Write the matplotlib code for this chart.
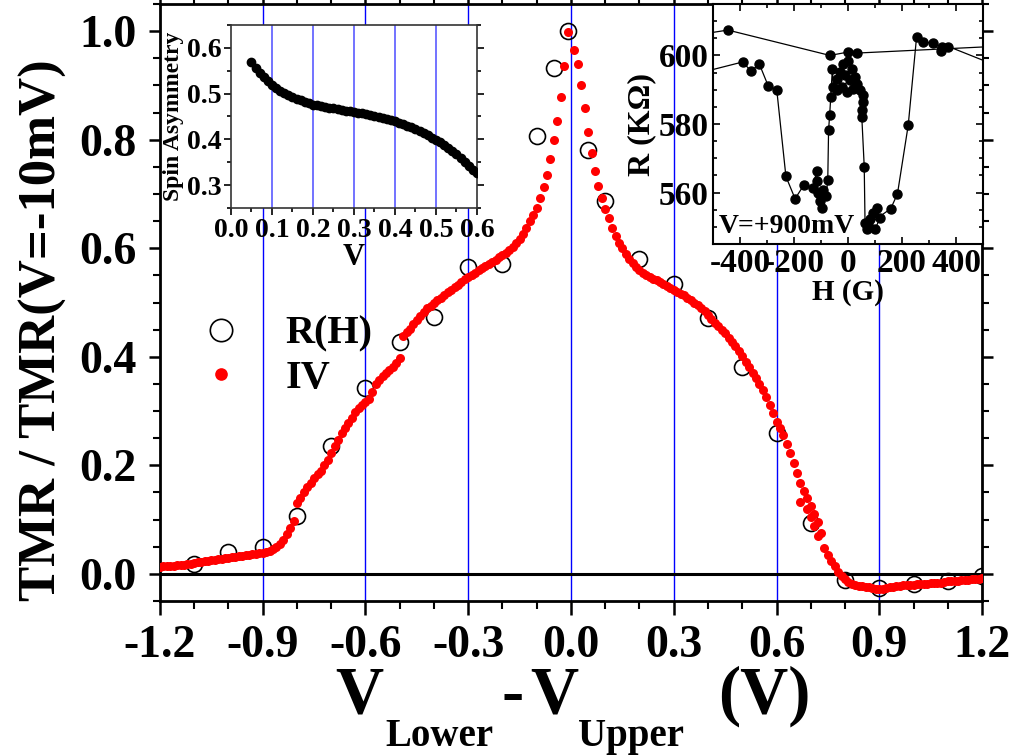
import numpy as np
import matplotlib
matplotlib.use("Agg")
import matplotlib.pyplot as plt
from matplotlib.ticker import MultipleLocator

plt.rcParams['font.family'] = ['Liberation Serif', 'DejaVu Serif']
plt.rcParams['font.weight'] = 'bold'
plt.rcParams['axes.unicode_minus'] = False

# ---- main panel: R(H) points ----
rh_v = [-1.1, -1.0, -0.9, -0.8, -0.7, -0.6, -0.5, -0.4, -0.3, -0.2, -0.1, -0.05, -0.01,
        0.05, 0.1, 0.2, 0.3, 0.4, 0.5, 0.6, 0.7, 0.8, 0.9, 1.0, 1.1, 1.2]
rh_tmr = [0.018, 0.040, 0.049, 0.107, 0.235, 0.343, 0.427, 0.473, 0.566, 0.571, 0.807, 0.933, 1.0,
          0.781, 0.687, 0.580, 0.534, 0.472, 0.381, 0.260, 0.094, -0.011, -0.026, -0.018, -0.014, -0.004]

# ---- main panel: IV points, bias from -1.20 V to +1.20 V in 0.01 V steps ----
iv_v = np.round(np.arange(-120, 121) * 0.01, 2)
iv_tmr = [
    # -1.20 .. -1.01
    0.013, 0.014, 0.014, 0.015, 0.015, 0.016, 0.017, 0.017, 0.018, 0.019,
    0.020, 0.021, 0.022, 0.023, 0.024, 0.025, 0.026, 0.027, 0.028, 0.029,
    # -1.00 .. -0.81
    0.030, 0.031, 0.032, 0.033, 0.033, 0.034, 0.035, 0.036, 0.037, 0.038,
    0.038, 0.040, 0.042, 0.045, 0.049, 0.055, 0.063, 0.073, 0.085, 0.098,
    # -0.80 .. -0.61
    0.130, 0.140, 0.150, 0.160, 0.168, 0.176, 0.184, 0.190, 0.200, 0.210,
    0.222, 0.235, 0.247, 0.259, 0.268, 0.278, 0.288, 0.298, 0.305, 0.311,
    # -0.60 .. -0.41
    0.316, 0.322, 0.335, 0.350, 0.358, 0.364, 0.370, 0.375, 0.381, 0.388,
    0.398, 0.438, 0.445, 0.452, 0.460, 0.468, 0.476, 0.483, 0.489, 0.494,
    # -0.40 .. -0.21
    0.499, 0.504, 0.509, 0.514, 0.519, 0.523, 0.528, 0.533, 0.538, 0.543,
    0.547, 0.551, 0.555, 0.559, 0.563, 0.567, 0.571, 0.575, 0.579, 0.583,
    # -0.20 .. -0.01
    0.587, 0.592, 0.597, 0.602, 0.609, 0.617, 0.627, 0.638, 0.651, 0.662,
    0.674, 0.693, 0.713, 0.735, 0.765, 0.800, 0.835, 0.878, 0.935, 0.999,
    # 0.00 (missing point)
    np.nan,
    # 0.01 .. 0.20
    0.965, 0.940, 0.900, 0.858, 0.815, 0.775, 0.743, 0.715, 0.692, 0.672,
    0.655, 0.638, 0.622, 0.610, 0.600, 0.590, 0.581, 0.573, 0.566, 0.559,
    # 0.21 .. 0.40
    0.554, 0.550, 0.547, 0.544, 0.541, 0.538, 0.535, 0.531, 0.527, 0.523,
    0.520, 0.516, 0.513, 0.509, 0.505, 0.500, 0.495, 0.490, 0.484, 0.477,
    # 0.41 .. 0.60
    0.470, 0.463, 0.456, 0.450, 0.443, 0.435, 0.428, 0.420, 0.411, 0.401,
    0.391, 0.381, 0.371, 0.360, 0.349, 0.338, 0.325, 0.312, 0.296, 0.280,
    # 0.61 .. 0.80
    0.268, 0.256, 0.240, 0.222, 0.205, 0.186, 0.168, 0.152, 0.140, 0.125,
    0.110, 0.095, 0.075, 0.048, 0.035, 0.024, 0.014, 0.004, -0.004, -0.010,
    # 0.81 .. 1.00
    -0.015, -0.018, -0.020, -0.022, -0.023, -0.024, -0.025, -0.026, -0.027, -0.028,
    -0.027, -0.026, -0.025, -0.024, -0.023, -0.022, -0.021, -0.021, -0.020, -0.020,
    # 1.01 .. 1.20
    -0.019, -0.019, -0.018, -0.018, -0.017, -0.017, -0.016, -0.016, -0.015, -0.014,
    -0.014, -0.013, -0.013, -0.012, -0.012, -0.011, -0.010, -0.010, -0.009, -0.008,
]
# a few scattered IV points near the steep drop
iv_extra_v = [0.67, 0.69, 0.70, 0.71, 0.72]
iv_extra_tmr = [0.133, 0.120, 0.105, 0.088, 0.070]

grid_v = [-0.9, -0.6, -0.3, 0.0, 0.3, 0.6, 0.9]

# ---- left inset: spin asymmetry ----
sa_v = np.round(np.arange(5, 61) * 0.01, 2)
sa = [0.568, 0.556, 0.546, 0.537, 0.528, 0.519, 0.512, 0.506, 0.501, 0.497,
      0.493, 0.489, 0.486, 0.482, 0.479, 0.476, 0.474, 0.472, 0.471, 0.469,
      0.468, 0.466, 0.465, 0.463, 0.462, 0.460, 0.458, 0.457, 0.455, 0.453,
      0.451, 0.449, 0.447, 0.444, 0.442, 0.439, 0.436, 0.433, 0.430, 0.426,
      0.422, 0.418, 0.414, 0.409, 0.404, 0.399, 0.394, 0.388, 0.382, 0.375,
      0.367, 0.359, 0.351, 0.342, 0.334, 0.326]

# ---- right inset: R(H) loop at V=+900mV ----
h_up = [-560, -390, -360, -328, -295, -264, -230, -196, -163, -131, -116, -114, -110, -104,
        -97, -91, -81, -75, -72, -68, -64, -58, -54, -42, -30, -17, 1, 14, 26, 32, 20, -5,
        -23, -42, 7, -11, 44, 54, 57, 53, 51, 60, 63, 69, 81, 94, 106, 119, 100, 75, 158,
        183, 223, 254, 277, 314, 343, 347, 372, 560]
r_up = [594.7, 598.1, 595.5, 597.4, 591.0, 590.0, 564.7, 558.2, 562.3, 561.4, 566.2, 563.3,
        559.9, 557.5, 555.6, 560.9, 558.9, 563.8, 578.3, 582.6, 587.9, 596.1, 590.8, 593.2,
        595.2, 597.6, 598.4, 596.1, 593.7, 591.8, 590.3, 589.4, 590.8, 589.9, 592.8, 594.2,
        589.9, 588.4, 586.5, 584.1, 582.1, 567.6, 551.2, 549.3, 552.2, 554.1, 555.6, 552.7,
        549.3, 550.7, 555.3, 559.6, 579.7, 605.5, 603.9, 603.6, 601.2, 602.4, 602.6, 596.7]
h_down = [560, 35, 1, -67, -445, -560]
r_down = [602.7, 600.7, 601.0, 600.0, 607.4, 606.0]

fig = plt.figure(figsize=(10.17, 7.56), dpi=100)
ax = fig.add_axes([0.1573, 0.205, 0.8083, 0.7897])

for g in grid_v:
    ax.axvline(g, color='blue', lw=1.0, zorder=1)
ax.axhline(0, color='black', lw=2.2, zorder=1)

ax.plot(rh_v, rh_tmr, 'o', mfc='none', mec='black', mew=1.2, ms=11.5, label='R(H)', zorder=3)
ax.plot(iv_v, iv_tmr, 'o', color='red', mec='none', ms=6.5, label='IV', zorder=4)
ax.plot(iv_extra_v, iv_extra_tmr, 'o', color='red', mec='none', ms=6.5, zorder=4)

ax.set_xlim(-1.2, 1.2)
ax.set_ylim(-0.05, 1.05)
ax.xaxis.set_minor_locator(MultipleLocator(0.1))
ax.yaxis.set_minor_locator(MultipleLocator(0.05))
ax.set_xticks([-1.2, -0.9, -0.6, -0.3, 0.0, 0.3, 0.6, 0.9, 1.2])
ax.set_xticklabels(['-1.2', '-0.9', '-0.6', '-0.3', '0.0', '0.3', '0.6', '0.9', '1.2'])
ax.set_yticks([0.0, 0.2, 0.4, 0.6, 0.8, 1.0])
ax.set_yticklabels(['0.0', '0.2', '0.4', '0.6', '0.8', '1.0'])
ax.tick_params(axis='x', which='major', direction='out', length=10, width=1.8, labelsize=33, pad=7)
ax.tick_params(axis='x', which='minor', direction='out', length=6, width=1.5)
ax.tick_params(axis='y', which='major', direction='out', length=8, width=1.8, labelsize=33, pad=9)
ax.tick_params(axis='y', which='minor', direction='out', length=5, width=1.5)
ax.tick_params(which='both', top=True, right=True)
for s in ax.spines.values():
    s.set_linewidth(2)

ax.legend(loc='upper left', bbox_to_anchor=(0.0499, 0.478), frameon=False, fontsize=29,
          markerscale=1.4, handlelength=1.0, handletextpad=1.1, labelspacing=0.18,
          borderpad=0, borderaxespad=0)

fig.text(0.042, 0.563, 'TMR / TMR(V=-10mV)', rotation=90, fontsize=38, fontweight='bold',
         ha='center', va='center')

# x label built from pieces so the subscripts sit low like the original
fig.text(0.3294, 0.0569, 'V', fontsize=48, fontweight='bold', ha='left', va='baseline')
fig.text(0.3786, 0.0132, 'Lower', fontsize=28, fontweight='bold', ha='left', va='baseline')
fig.text(0.5044, 0.0569, '-', fontsize=48, fontweight='bold', ha='center', va='baseline')
fig.text(0.5211, 0.0569, 'V', fontsize=48, fontweight='bold', ha='left', va='baseline')
fig.text(0.5683, 0.0132, 'Upper', fontsize=28, fontweight='bold', ha='left', va='baseline')
fig.text(0.706, 0.0569, '(V)', fontsize=48, fontweight='bold', ha='left', va='baseline')

# ---- left inset ----
ax1 = fig.add_axes([0.2271, 0.7249, 0.2419, 0.2421])
ax1.set_facecolor('white')
for g in [0.1, 0.2, 0.3, 0.4, 0.5]:
    ax1.axvline(g, color='#5a5aff', lw=1.2, zorder=1)
ax1.plot(sa_v, sa, 'o', color='black', ms=6, zorder=3)
ax1.set_xlim(0, 0.6)
ax1.set_ylim(0.25, 0.65)
ax1.xaxis.set_minor_locator(MultipleLocator(0.05))
ax1.yaxis.set_minor_locator(MultipleLocator(0.05))
ax1.set_xticks([0.0, 0.1, 0.2, 0.3, 0.4, 0.5, 0.6])
ax1.set_xticklabels(['0.0', '0.1', '0.2', '0.3', '0.4', '0.5', '0.6'])
ax1.set_yticks([0.3, 0.4, 0.5, 0.6])
ax1.set_yticklabels(['0.3', '0.4', '0.5', '0.6'])
ax1.tick_params(which='both', labelsize=20, width=1.2, direction='out', right=True, pad=2)
ax1.tick_params(which='major', length=5)
ax1.tick_params(which='minor', length=3)
ax1.set_xlabel('V', fontsize=22, fontweight='bold', labelpad=0)
ax1.set_ylabel('Spin Asymmetry', fontsize=17, fontweight='bold', labelpad=2)
for s in ax1.spines.values():
    s.set_linewidth(1.2)
    s.set_color('#333333')

# ---- right inset ----
ax2 = fig.add_axes([0.7011, 0.6772, 0.2655, 0.3175])
ax2.set_facecolor('white')
ax2.plot(h_up, r_up, '-', color='black', lw=0.9, zorder=2)
ax2.plot(h_down, r_down, '-', color='black', lw=0.9, zorder=2)
ax2.plot(h_up, r_up, 'o', color='black', ms=6.5, zorder=3)
ax2.plot(h_down, r_down, 'o', color='black', ms=6.5, zorder=3)
ax2.set_xlim(-500, 500)
ax2.set_ylim(545, 615)
ax2.set_xticks([-400, -200, 0, 200, 400])
ax2.set_xticklabels(['-400', '-200', '0', '200', '400'])
ax2.xaxis.set_minor_locator(MultipleLocator(100))
ax2.set_yticks([560, 580, 600])
ax2.set_yticklabels(['560', '580', '600'])
ax2.yaxis.set_minor_locator(MultipleLocator(5))
ax2.tick_params(which='both', labelsize=24, width=1.2, direction='in', right=True, top=True)
ax2.tick_params(which='major', length=5, pad=3)
ax2.tick_params(which='minor', length=3)
ax2.set_xlabel('H (G)', fontsize=21, fontweight='bold', labelpad=0)
ax2.set_ylabel('R (K\u03a9)', fontsize=23, fontweight='bold', labelpad=2)
ax2.text(0.02, 0.02, 'V=+900mV', transform=ax2.transAxes, fontsize=20, fontweight='bold',
         ha='left', va='bottom')
for s in ax2.spines.values():
    s.set_linewidth(1.5)

fig.savefig('out.png', dpi=100)
